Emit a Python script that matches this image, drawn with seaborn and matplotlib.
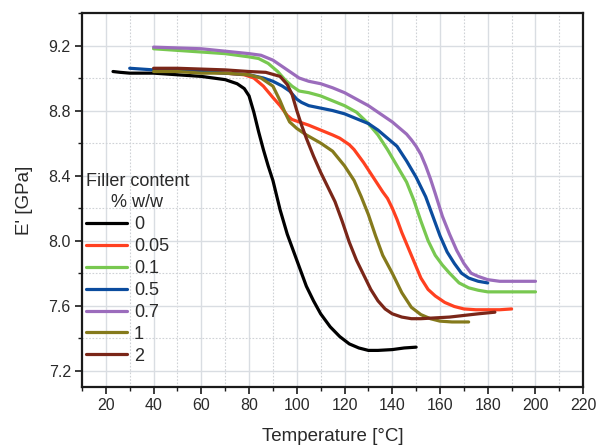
import matplotlib
matplotlib.use("Agg")
import matplotlib.pyplot as plt
from matplotlib.ticker import MultipleLocator
import numpy as np
import pandas as pd
import seaborn as sns

# Storage modulus E' versus temperature for different filler contents
t_0 = [23, 26, 30, 40, 50, 60, 65, 70, 75, 78, 80, 82, 84, 86, 88, 90, 93,
       96, 100, 104, 107, 110, 114, 118, 122, 126, 130, 134, 140, 145, 150]
e_0 = [9.04, 9.035, 9.03, 9.03, 9.02, 9.01, 9.00, 8.99, 8.965, 8.935, 8.89,
       8.79, 8.67, 8.56, 8.46, 8.37, 8.19, 8.04, 7.88, 7.72, 7.63, 7.55, 7.47,
       7.41, 7.365, 7.34, 7.325, 7.325, 7.33, 7.34, 7.345]

t_005 = [40, 50, 60, 70, 78, 82, 86, 90, 93, 96, 98, 101, 105, 110, 115, 118,
         120, 122, 124, 126, 128, 132, 136, 138, 140, 142, 144, 146, 148, 150,
         152, 155, 158, 162, 166, 170, 175, 180, 185, 190]
e_005 = [9.05, 9.05, 9.04, 9.03, 9.02, 9.00, 8.95, 8.88, 8.83, 8.77, 8.745,
         8.73, 8.71, 8.68, 8.65, 8.63, 8.61, 8.59, 8.56, 8.52, 8.48, 8.39, 8.30,
         8.26, 8.20, 8.13, 8.05, 7.98, 7.91, 7.84, 7.77, 7.70, 7.66, 7.62,
         7.595, 7.58, 7.575, 7.575, 7.575, 7.58]

t_01 = [40, 50, 60, 70, 80, 84, 88, 92, 95, 98, 101, 105, 110, 115, 120, 125,
        130, 134, 138, 142, 146, 149, 152, 155, 158, 161, 164, 168, 172, 176,
        180, 190, 200]
e_01 = [9.18, 9.17, 9.16, 9.15, 9.13, 9.12, 9.09, 9.04, 8.99, 8.95, 8.92,
        8.91, 8.89, 8.86, 8.83, 8.79, 8.72, 8.65, 8.56, 8.46, 8.36, 8.25, 8.12,
        8.00, 7.91, 7.85, 7.80, 7.74, 7.71, 7.695, 7.685, 7.685, 7.685]

t_05 = [30, 40, 50, 60, 70, 80, 86, 90, 94, 97, 100, 102, 105, 110, 115, 120,
        125, 130, 134, 138, 142, 146, 150, 154, 157, 160, 163, 166, 169, 172,
        176, 180]
e_05 = [9.06, 9.05, 9.05, 9.04, 9.03, 9.02, 9.00, 8.98, 8.95, 8.92, 8.87,
        8.85, 8.83, 8.815, 8.80, 8.78, 8.75, 8.72, 8.68, 8.63, 8.58, 8.49, 8.39,
        8.27, 8.15, 8.03, 7.93, 7.86, 7.80, 7.77, 7.75, 7.74]

t_07 = [40, 50, 60, 70, 80, 85, 90, 94, 98, 101, 105, 110, 115, 120, 125, 130,
        135, 140, 144, 146, 148, 150, 152, 154, 156, 158, 161, 164, 167, 170,
        173, 176, 180, 185, 190, 200]
e_07 = [9.19, 9.185, 9.18, 9.165, 9.15, 9.14, 9.11, 9.07, 9.03, 9.00, 8.98,
        8.965, 8.94, 8.91, 8.87, 8.83, 8.78, 8.73, 8.68, 8.655, 8.62, 8.58,
        8.53, 8.46, 8.38, 8.29, 8.15, 8.04, 7.94, 7.86, 7.80, 7.78, 7.76, 7.75,
        7.75, 7.75]

t_1 = [40, 50, 60, 70, 80, 85, 90, 93, 95, 97, 100, 104, 110, 115, 120, 124,
       127, 130, 133, 136, 140, 144, 148, 152, 156, 160, 165, 172]
e_1 = [9.04, 9.04, 9.03, 9.03, 9.02, 9.00, 8.95, 8.86, 8.79, 8.73, 8.69, 8.65,
       8.60, 8.55, 8.46, 8.37, 8.27, 8.16, 8.03, 7.91, 7.80, 7.68, 7.59, 7.545,
       7.52, 7.505, 7.50, 7.50]

t_2 = [40, 50, 60, 70, 80, 87, 93, 96, 98, 100, 102, 104, 107, 110, 113, 116,
       119, 122, 125, 128, 131, 134, 137, 140, 144, 148, 152, 158, 164, 170,
       176, 183]
e_2 = [9.06, 9.06, 9.055, 9.05, 9.04, 9.035, 9.01, 8.96, 8.90, 8.80, 8.71,
       8.63, 8.52, 8.42, 8.33, 8.24, 8.12, 7.99, 7.88, 7.79, 7.70, 7.63, 7.58,
       7.55, 7.53, 7.52, 7.52, 7.525, 7.53, 7.54, 7.55, 7.56]

labels = ["0", "0.05", "0.1", "0.5", "0.7", "1", "2"]
temps = [t_0, t_005, t_01, t_05, t_07, t_1, t_2]
moduli = [e_0, e_005, e_01, e_05, e_07, e_1, e_2]
colors = ["#000000", "#ff4020", "#78c850", "#0b4c9e", "#9b6cbc", "#857a1c",
          "#7a2618"]

frames = []
for lab, t, e in zip(labels, temps, moduli):
    frames.append(pd.DataFrame({"T": t, "E": e, "content": lab}))
df = pd.concat(frames, ignore_index=True)

sns.set_theme(style="white")
plt.rcParams["font.family"] = ["Liberation Sans", "DejaVu Sans"]

fig = plt.figure(figsize=(6.01, 4.46), dpi=100)
ax = fig.add_axes([0.1364, 0.1323, 0.834, 0.8386])

sns.lineplot(data=df, x="T", y="E", hue="content", hue_order=labels,
             palette=colors, sort=False, estimator=None, linewidth=2.3,
             ax=ax, zorder=3)

ax.set_xlim(10, 220)
ax.set_ylim(7.1, 9.4)
ax.xaxis.set_major_locator(MultipleLocator(20))
ax.xaxis.set_minor_locator(MultipleLocator(10))
ax.yaxis.set_major_locator(MultipleLocator(0.4))
ax.yaxis.set_minor_locator(MultipleLocator(0.2))
ax.set_xticks(np.arange(20, 221, 20))
ax.set_yticks(np.arange(7.2, 9.3, 0.4))
ax.set_yticklabels([f"{v:.1f}" for v in np.arange(7.2, 9.3, 0.4)])

ax.grid(which="major", color="#d9dde2", linewidth=1.0, linestyle="-")
ax.grid(which="minor", color="#cfd2d6", linewidth=0.8, linestyle=(0, (1.5, 1.5)))
ax.set_axisbelow(True)

for side in ["left", "bottom", "right", "top"]:
    ax.spines[side].set_color("#1a1a1a")
    ax.spines[side].set_linewidth(1.6)
    ax.spines[side].set_visible(True)

ax.tick_params(axis="both", which="major", direction="out", length=5,
               width=1.2, color="#1a1a1a", labelsize=11.5, labelcolor="#2a2a2a",
               bottom=True, left=True, top=False, right=False, pad=3)
ax.tick_params(axis="both", which="minor", direction="out", length=3,
               width=1.0, color="#1a1a1a", bottom=True, left=True,
               top=False, right=False)

ax.set_xlabel("Temperature [°C]", fontsize=13.5, color="#2a2a2a", labelpad=11)
ax.set_ylabel("E' [GPa]", fontsize=13.5, color="#2a2a2a", labelpad=11)

leg = ax.legend(title="Filler content\n% w/w", loc="upper left",
                bbox_to_anchor=(0.0, 0.582), frameon=False, fontsize=13,
                title_fontsize=13, handlelength=2.27, handletextpad=0.4,
                labelspacing=0.27, borderaxespad=0.0, borderpad=0.2)
leg.set_alignment("left")
leg.get_title().set_multialignment("center")
leg.get_title().set_linespacing(1.35)
leg.get_title().set_color("#2a2a2a")
for txt in leg.get_texts():
    txt.set_color("#2a2a2a")
for line in leg.get_lines():
    line.set_linewidth(2.3)

fig.savefig("out.png", dpi=100)
